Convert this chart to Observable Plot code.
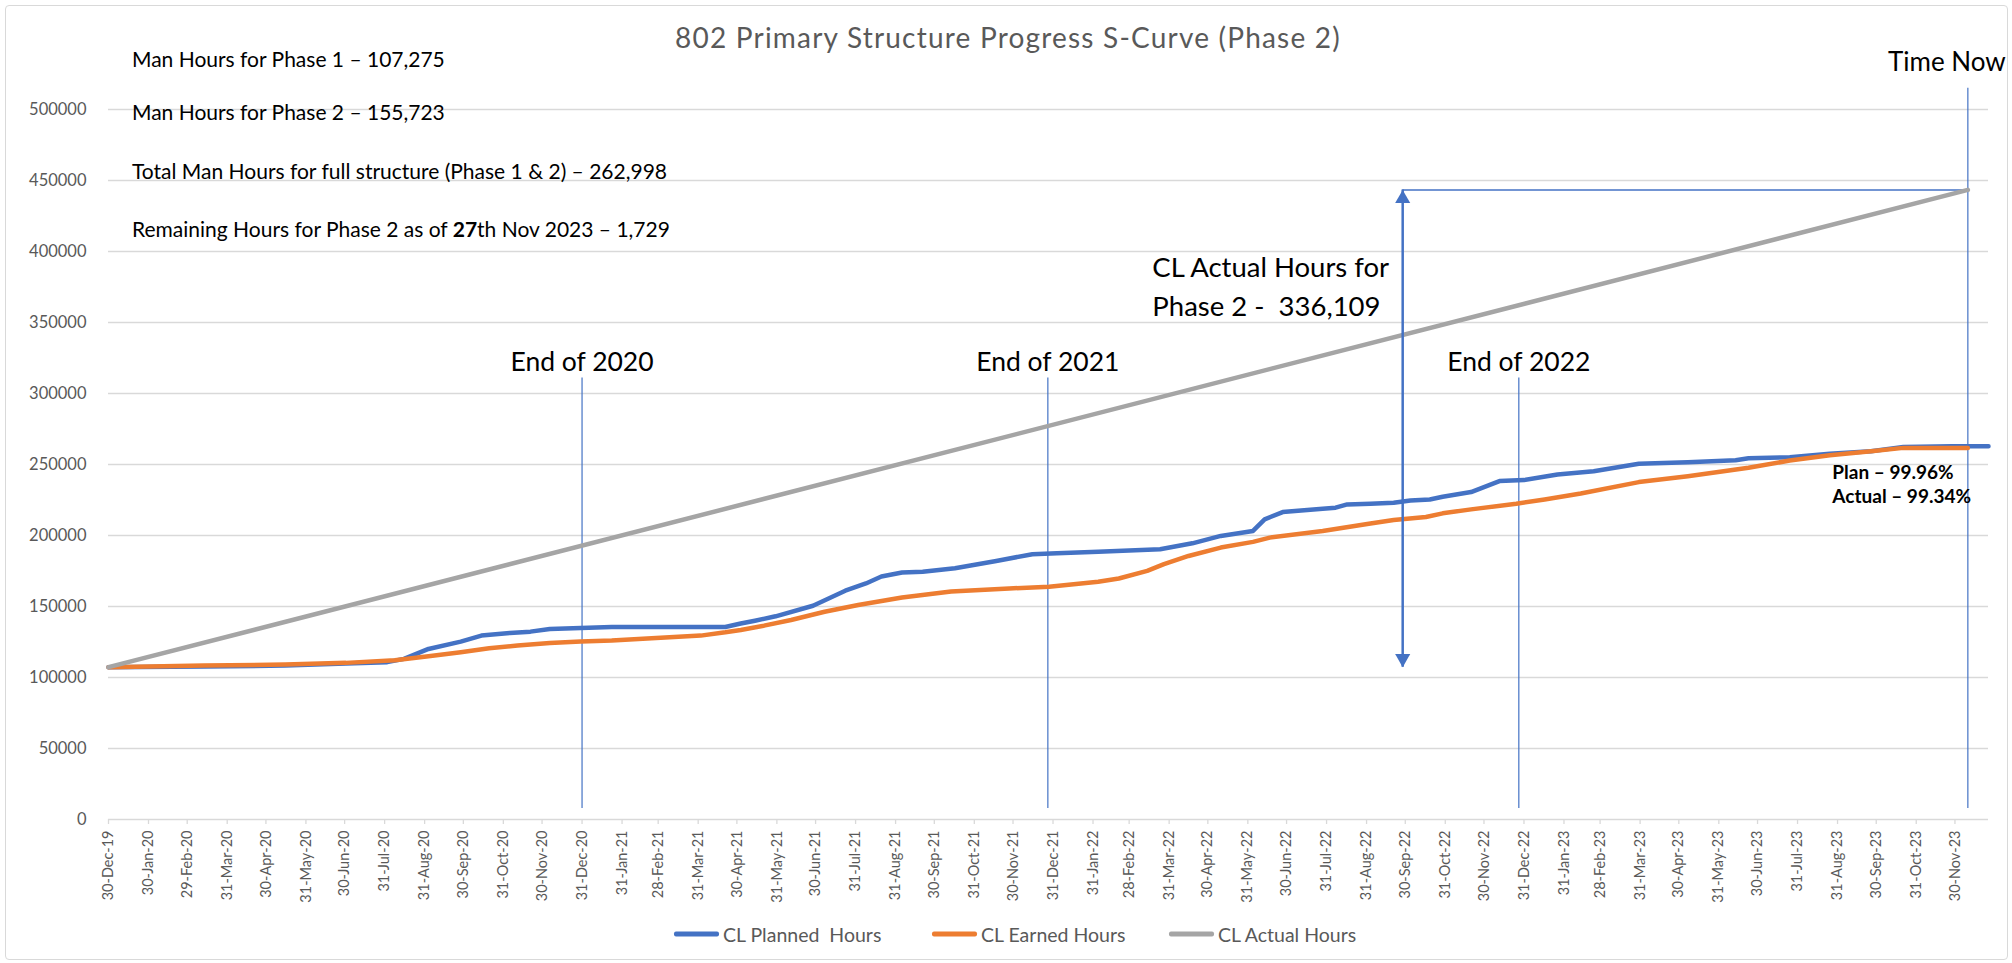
<!DOCTYPE html>
<html>
<head>
<meta charset="utf-8">
<script src="https://cdn.jsdelivr.net/npm/d3@7"></script>
<script src="https://cdn.jsdelivr.net/npm/@observablehq/plot@0.6"></script>
<style>
  html, body { margin: 0; padding: 0; background: #fff; }
  #wrap { position: relative; width: 2012px; height: 963px; overflow: hidden; font-family: Lato, "Open Sans", sans-serif; }
  #frame { position: absolute; left: 5px; top: 5px; width: 2003px; height: 955px; border: 1.5px solid #d9d9d9; border-radius: 4px; box-sizing: border-box; }
  #chart { position: absolute; left: 0; top: 0; }
  #title { position: absolute; left: 1008px; top: 37px; transform: translate(-50%, -50%); font-size: 28px; letter-spacing: 1.2px; color: #595959; white-space: pre; }
  .note { position: absolute; left: 132px; font-size: 21px; color: #000; transform: translateY(-50%); white-space: pre; line-height: 1; }
  .leg { position: absolute; top: 934px; transform: translateY(-50%); display: flex; align-items: center; font-size: 19.5px; color: #595959; white-space: pre; }
  .sw { width: 45px; height: 4.5px; border-radius: 2px; margin-right: 4px; }
</style>
</head>
<body>
<div id="wrap">
  <div id="frame"></div>
  <div id="chart"></div>
  <div id="title"></div>
  <div id="notes"></div>
  <div id="legend"></div>
</div>
<script>
// ---------- data ----------
const chartTitle = "802 Primary Structure Progress S-Curve (Phase 2)";

const notes = [
  "Man Hours for Phase 1 \u2013 107,275",
  "Man Hours for Phase 2 \u2013 155,723",
  "Total Man Hours for full structure (Phase 1 & 2) \u2013 262,998",
  "Remaining Hours for Phase 2 as of <b>27</b>th Nov 2023 \u2013 1,729"
];

const seriesNames = ["CL Planned  Hours", "CL Earned Hours", "CL Actual Hours"];
const seriesColors = ["#4472C4", "#ED7D31", "#A5A5A5"];

const plannedHours = [
  ["2019-12-30",107275],["2020-03-13",107700],["2020-05-15",108400],["2020-07-01",109800],
  ["2020-08-02",110800],["2020-08-15",113100],["2020-09-03",120100],["2020-09-28",125300],
  ["2020-10-14",129500],["2020-11-05",131400],["2020-11-21",132300],["2020-12-06",134200],
  ["2020-12-30",134900],["2021-01-23",135600],["2021-03-11",135600],["2021-04-21",135600],
  ["2021-05-03",138000],["2021-05-14",140000],["2021-05-30",143100],["2021-06-28",150500],
  ["2021-07-23",161100],["2021-08-08",166200],["2021-08-20",171100],["2021-09-05",173900],
  ["2021-09-21",174400],["2021-10-16",177000],["2021-11-17",182100],["2021-12-15",186800],
  ["2022-01-03",187500],["2022-02-04",188500],["2022-03-24",190300],["2022-04-18",194500],
  ["2022-05-10",199700],["2022-06-04",203200],["2022-06-13",211400],["2022-06-27",216500],
  ["2022-07-28",218900],["2022-08-07",219600],["2022-08-16",221900],["2022-09-03",222400],
  ["2022-09-21",223100],["2022-10-04",224700],["2022-10-19",225400],["2022-10-29",227300],
  ["2022-11-20",230600],["2022-12-12",238300],["2022-12-31",239000],["2023-01-26",243000],
  ["2023-02-23",245300],["2023-03-30",250500],["2023-05-07",251600],["2023-06-13",253000],
  ["2023-06-23",254400],["2023-07-25",255100],["2023-08-25",257500],["2023-09-26",259400],
  ["2023-10-21",262400],["2023-11-28",262900],["2023-12-26",262900]
];

const earnedHours = [
  ["2019-12-30",107275],["2020-03-13",108400],["2020-05-15",109100],["2020-07-01",110300],
  ["2020-08-08",112200],["2020-09-03",115000],["2020-09-28",117800],["2020-10-20",120600],
  ["2020-11-11",122500],["2020-12-06",124300],["2020-12-30",125300],["2021-01-23",126000],
  ["2021-02-23",127600],["2021-04-02",129500],["2021-04-21",131800],["2021-05-03",133500],
  ["2021-05-21",136500],["2021-06-11",140500],["2021-07-07",146300],["2021-08-02",151000],
  ["2021-09-05",156400],["2021-10-13",160600],["2021-11-27",162700],["2021-12-28",163900],
  ["2022-02-04",167400],["2022-02-20",169700],["2022-03-14",175100],["2022-03-27",179800],
  ["2022-04-15",185600],["2022-05-10",191500],["2022-06-04",195500],["2022-06-17",198500],
  ["2022-07-28",203200],["2022-09-03",208500],["2022-09-21",210900],["2022-10-16",213000],
  ["2022-10-29",215600],["2022-11-20",218400],["2022-12-25",222400],["2023-01-16",225400],
  ["2023-02-13",229600],["2023-03-30",237600],["2023-05-07",241800],["2023-06-23",247700],
  ["2023-07-25",252800],["2023-08-25",256500],["2023-09-26",259400],["2023-10-21",261700],
  ["2023-12-10",261700]
];

const actualHours = [["2019-12-30",107275],["2023-12-10",443384]];

const xTickDates = [
  "2019-12-30","2020-01-30","2020-02-29","2020-03-31","2020-04-30","2020-05-31","2020-06-30",
  "2020-07-31","2020-08-31","2020-09-30","2020-10-31","2020-11-30","2020-12-31","2021-01-31",
  "2021-02-28","2021-03-31","2021-04-30","2021-05-31","2021-06-30","2021-07-31","2021-08-31",
  "2021-09-30","2021-10-31","2021-11-30","2021-12-31","2022-01-31","2022-02-28","2022-03-31",
  "2022-04-30","2022-05-31","2022-06-30","2022-07-31","2022-08-31","2022-09-30","2022-10-31",
  "2022-11-30","2022-12-31","2023-01-31","2023-02-28","2023-03-31","2023-04-30","2023-05-31",
  "2023-06-30","2023-07-31","2023-08-31","2023-09-30","2023-10-31","2023-11-30"
];
const xDomain = ["2019-12-30", "2023-12-26"];
const yTicks = [0,50000,100000,150000,200000,250000,300000,350000,400000,450000,500000];

// annotations
const yearEnds = [["End of 2020","2020-12-31"],["End of 2021","2021-12-27"],["End of 2022","2022-12-27"]];
const yearEndLabelY = 322000;
const markerLineRange = [7700, 311000];
const timeNow = { label: "Time Now", date: "2023-12-10", top: 515000, labelY: 533000 };
const actualSpan = { date: "2022-09-28", from: 107275, to: 443384 };
const actualLabel = { text: "CL Actual Hours for\nPhase 2 -\u00a0 336,109", date: "2022-03-18", y: 376800 };
const pctLabel = { text: "Plan \u2013 99.96%\nActual \u2013 99.34%", date: "2023-08-27", y: 237000 };

// ---------- build ----------
const P = s => new Date(s + "T00:00:00Z");
const toRows = arr => arr.map(([d, v]) => ({date: P(d), value: v}));
const planned = toRows(plannedHours), earned = toRows(earnedHours), actual = toRows(actualHours);
const font = "Lato, 'Open Sans', sans-serif";
const blue = "#4472C4";

const chart = Plot.plot({
  width: 2012, height: 963,
  marginLeft: 108, marginRight: 24, marginTop: 109, marginBottom: 144,
  style: {fontFamily: font, background: "transparent", overflow: "visible"},
  x: {type: "utc", domain: xDomain.map(P)},
  y: {domain: [0, 500000]},
  marks: [
    Plot.gridY(yTicks.filter(d => d > 0), {stroke: "#d9d9d9", strokeOpacity: 1, strokeWidth: 1.3}),
    Plot.axisY(yTicks, {tickSize: 0, tickPadding: 22, tickFormat: d3.format("d"), fill: "#595959", fontSize: 16.5, label: null}),
    Plot.ruleY([0], {stroke: "#d9d9d9", strokeWidth: 1.6}),
    Plot.axisX(xTickDates.map(P), {tickRotate: -90, tickSize: 5, tickPadding: 6, tickFormat: d3.utcFormat("%d-%b-%y"),
      stroke: "#d9d9d9", strokeWidth: 1.3, fill: "#595959", fontSize: 14.5, label: null}),
    // year-end markers
    Plot.ruleX(yearEnds, {x: d => P(d[1]), y1: markerLineRange[0], y2: markerLineRange[1], stroke: blue, strokeWidth: 1.2}),
    Plot.text(yearEnds, {x: d => P(d[1]), y: yearEndLabelY, text: d => d[0], fontSize: 26.5, fill: "#000", textAnchor: "middle", lineAnchor: "middle"}),
    // time now
    Plot.ruleX([timeNow], {x: d => P(d.date), y1: markerLineRange[0], y2: d => d.top, stroke: blue, strokeWidth: 1.2}),
    Plot.text([timeNow], {x: d => P(d.date), y: d => d.labelY, text: d => d.label, fontSize: 26, fill: "#000", textAnchor: "middle", lineAnchor: "middle", dx: -21}),
    // horizontal line at actual total
    Plot.ruleY([actualSpan], {y: d => d.to, x1: d => P(d.date), x2: () => P(timeNow.date), stroke: blue, strokeWidth: 1.5}),
    // series
    Plot.lineY(planned, {x: "date", y: "value", stroke: seriesColors[0], strokeWidth: 4.5, strokeLinejoin: "round", strokeLinecap: "round"}),
    Plot.lineY(earned, {x: "date", y: "value", stroke: seriesColors[1], strokeWidth: 4.5, strokeLinejoin: "round", strokeLinecap: "round"}),
    Plot.lineY(actual, {x: "date", y: "value", stroke: seriesColors[2], strokeWidth: 4.5, strokeLinecap: "round"}),
    // double arrow
    Plot.ruleX([actualSpan], {x: d => P(d.date), y1: d => d.from, y2: d => d.to, stroke: blue, strokeWidth: 2.5}),
    Plot.dot([actualSpan], {x: d => P(d.date), y: d => d.to, symbol: "triangle", r: 5.6, fill: blue, stroke: "none", dy: 8.7}),
    Plot.dot([actualSpan], {x: d => P(d.date), y: d => d.from, symbol: "triangle", r: 5.6, fill: blue, stroke: "none", rotate: 180, dy: -8.7}),
    Plot.text([actualLabel], {x: d => P(d.date), y: d => d.y, text: d => d.text, fontSize: 27.5, fill: "#000", textAnchor: "start", lineAnchor: "middle", lineHeight: 1.42}),
    Plot.text([pctLabel], {x: d => P(d.date), y: d => d.y, text: d => d.text, fontSize: 19, fontWeight: "bold", fill: "#000", textAnchor: "start", lineAnchor: "middle", lineHeight: 1.3})
  ]
});
document.getElementById("chart").appendChild(chart);

document.getElementById("title").textContent = chartTitle;

const noteY = [58, 111, 170, 228];
const notesDiv = document.getElementById("notes");
notes.forEach((t, i) => {
  const d = document.createElement("div");
  d.className = "note";
  d.style.top = noteY[i] + "px";
  d.innerHTML = t;
  notesDiv.appendChild(d);
});

const legendLeft = [674, 932, 1169];
const legendDiv = document.getElementById("legend");
seriesNames.forEach((n, i) => {
  const item = document.createElement("div");
  item.className = "leg";
  item.style.left = legendLeft[i] + "px";
  const sw = document.createElement("div");
  sw.className = "sw";
  sw.style.background = seriesColors[i];
  const tx = document.createElement("span");
  tx.textContent = n;
  item.appendChild(sw); item.appendChild(tx);
  legendDiv.appendChild(item);
});
</script>
</body>
</html>
